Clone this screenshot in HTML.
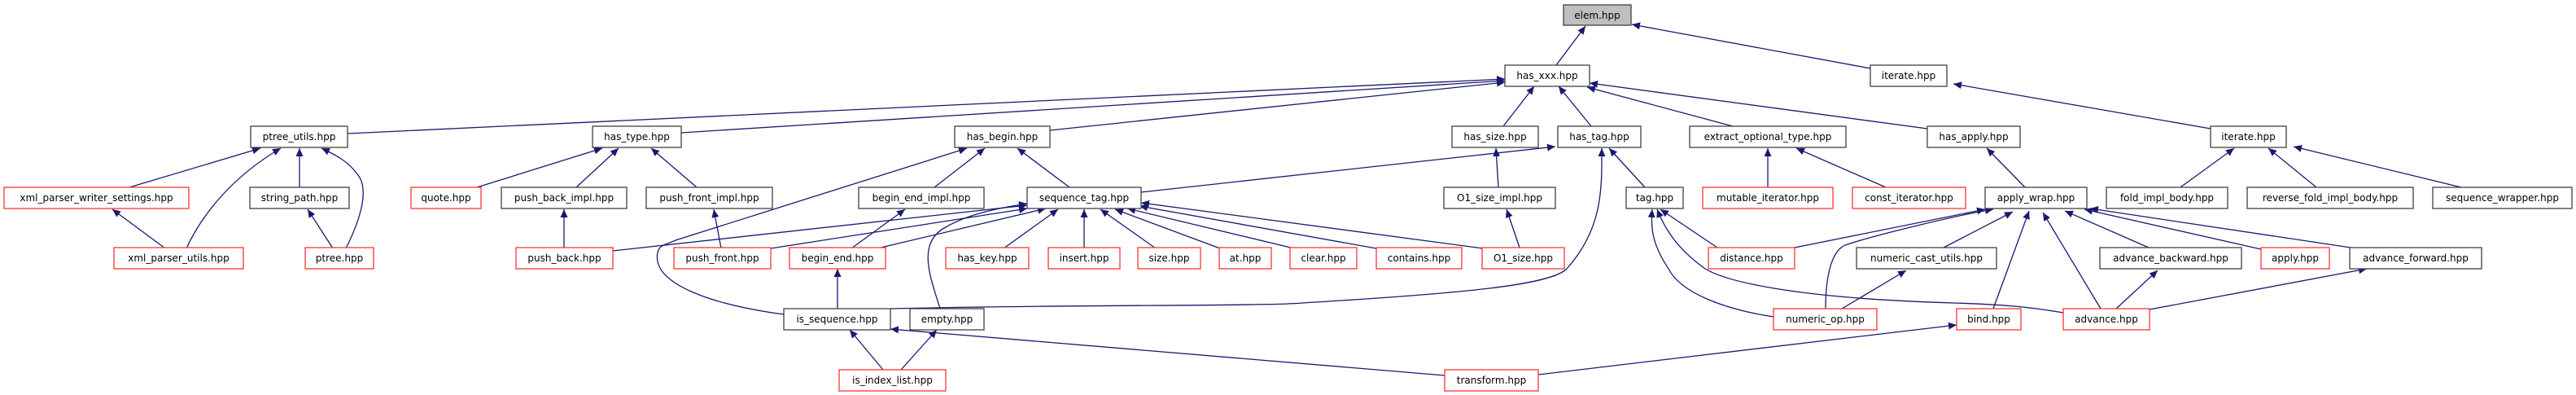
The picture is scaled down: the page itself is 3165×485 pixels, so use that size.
<!DOCTYPE html>
<html><head><meta charset="utf-8"><style>
html,body{margin:0;padding:0;background:#fff}
svg{display:block}
text{font-family:"DejaVu Sans","Liberation Sans",sans-serif;font-size:12px;fill:#000;text-anchor:middle}
.e{fill:none;stroke:#191970;stroke-width:1.3;marker-end:url(#a)}
.n{fill:#fff;stroke:#404040;stroke-width:1.3}
.r{fill:#fff;stroke:#ff3333;stroke-width:1.3}
</style></head><body>
<svg width="3165" height="485" viewBox="0 0 3165 485" xmlns="http://www.w3.org/2000/svg">
<defs><marker id="a" markerUnits="userSpaceOnUse" markerWidth="11" markerHeight="10" refX="10" refY="4.5" orient="auto"><path d="M0,0 L10,4.5 L0,9 z" fill="#191970"/></marker></defs>
<g>
<path class="e" d="M1912,80 L1948,32"/>
<path class="e" d="M2298,84 L2005,30"/>
<path class="e" d="M427,164 L1849,97"/>
<path class="e" d="M837,163 L1849,99"/>
<path class="e" d="M1290,160 L1849,101"/>
<path class="e" d="M1847,155 L1885,106"/>
<path class="e" d="M1955,155 L1915,106"/>
<path class="e" d="M2129,155 L1950,107"/>
<path class="e" d="M2368,158 L1953,102"/>
<path class="e" d="M159,230 L320,182"/>
<path class="e" d="M229,305 C245,270 280,220 345,182"/>
<path class="e" d="M368,230 L368,182"/>
<path class="e" d="M425,305 C440,275 455,235 440,215 C428,198 412,190 395,182"/>
<path class="e" d="M203,305 L138,257"/>
<path class="e" d="M409,305 L378,257"/>
<path class="e" d="M586,230 L740,182"/>
<path class="e" d="M708,230 L760,182"/>
<path class="e" d="M856,230 L800,182"/>
<path class="e" d="M693,305 L693,257"/>
<path class="e" d="M886,305 L877,257"/>
<path class="e" d="M963,386 C880,375 800,350 808,310 C810,300 820,300 830,295 L1188,182"/>
<path class="e" d="M1148,230 L1210,182"/>
<path class="e" d="M1314,230 L1250,182"/>
<path class="e" d="M1402,236 L1911,180"/>
<path class="e" d="M1046,305 L1112,257"/>
<path class="e" d="M753,308 L1262,252"/>
<path class="e" d="M947,305 L1262,256"/>
<path class="e" d="M1078,305 L1285,256"/>
<path class="e" d="M1155,379 C1145,345 1125,300 1160,280 C1190,262 1230,255 1262,250"/>
<path class="e" d="M1233,305 L1300,257"/>
<path class="e" d="M1332,305 L1332,257"/>
<path class="e" d="M1420,305 L1352,257"/>
<path class="e" d="M1499,305 L1370,257"/>
<path class="e" d="M1590,305 L1385,256"/>
<path class="e" d="M1691,305 L1400,253"/>
<path class="e" d="M1822,305 L1402,249"/>
<path class="e" d="M1841,230 L1838,182"/>
<path class="e" d="M1867,304 L1851,257"/>
<path class="e" d="M1094,379 C1300,374 1560,376 1600,372 C1800,360 1905,350 1925,330 C1970,280 1968,230 1968,182"/>
<path class="e" d="M2021,230 L1977,182"/>
<path class="e" d="M2172,230 L2172,182"/>
<path class="e" d="M2317,230 L2207,182"/>
<path class="e" d="M2488,230 L2441,182"/>
<path class="e" d="M2679,230 L2745,182"/>
<path class="e" d="M2846,230 L2787,182"/>
<path class="e" d="M3024,230 L2818,180"/>
<path class="e" d="M2716,158 L2400,103"/>
<path class="e" d="M2110,304 L2040,257"/>
<path class="e" d="M2179,389 C2120,380 2065,360 2050,330 C2030,300 2028,280 2030,257"/>
<path class="e" d="M2535,384 C2500,378 2470,374 2400,372 C2200,366 2120,345 2095,330 C2060,305 2045,280 2036,257"/>
<path class="e" d="M2205,304 L2439,257"/>
<path class="e" d="M2243,379 C2243,340 2250,305 2270,300 C2300,290 2400,265 2449,257"/>
<path class="e" d="M2388,304 L2473,260"/>
<path class="e" d="M2449,379 L2493,259"/>
<path class="e" d="M2581,379 L2510,261"/>
<path class="e" d="M2640,304 L2537,259"/>
<path class="e" d="M2778,306 L2561,257"/>
<path class="e" d="M2888,304 L2568,256"/>
<path class="e" d="M2263,379 L2342,332"/>
<path class="e" d="M2600,379 L2651,332"/>
<path class="e" d="M2641,380 L2908,330"/>
<path class="e" d="M1890,460 L2404,399"/>
<path class="e" d="M1775,461 L1094,404"/>
<path class="e" d="M1085,454 L1044,405"/>
<path class="e" d="M1107,454 L1151,405"/>
<path class="e" d="M1029,379 L1029,330"/>
</g>
<g>
<rect x="1921" y="6" width="83" height="25" fill="#bfbfbf" stroke="#404040" stroke-width="1.3"/><text x="1962.5" y="23">elem.hpp</text>
<rect class="n" x="1849" y="80" width="104" height="26"/><text x="1901" y="97">has_xxx.hpp</text>
<rect class="n" x="2298" y="80" width="94" height="26"/><text x="2345" y="97">iterate.hpp</text>

<rect class="n" x="308" y="155" width="119" height="26"/><text x="367.5" y="172">ptree_utils.hpp</text>
<rect class="n" x="728" y="155" width="109" height="26"/><text x="782.5" y="172">has_type.hpp</text>
<rect class="n" x="1173" y="155" width="117" height="26"/><text x="1231.5" y="172">has_begin.hpp</text>
<rect class="n" x="1784" y="155" width="106" height="26"/><text x="1837" y="172">has_size.hpp</text>
<rect class="n" x="1914" y="155" width="102" height="26"/><text x="1965" y="172">has_tag.hpp</text>
<rect class="n" x="2076" y="155" width="192" height="26"/><text x="2172" y="172">extract_optional_type.hpp</text>
<rect class="n" x="2368" y="155" width="114" height="26"/><text x="2425" y="172">has_apply.hpp</text>
<rect class="n" x="2716" y="155" width="93" height="26"/><text x="2762.5" y="172">iterate.hpp</text>

<rect class="r" x="5" y="230" width="227" height="26"/><text x="118.5" y="247">xml_parser_writer_settings.hpp</text>
<rect class="n" x="307" y="230" width="122" height="26"/><text x="368" y="247">string_path.hpp</text>
<rect class="r" x="505" y="230" width="86" height="26"/><text x="548" y="247">quote.hpp</text>
<rect class="n" x="616" y="230" width="154" height="26"/><text x="693" y="247">push_back_impl.hpp</text>
<rect class="n" x="794" y="230" width="155" height="26"/><text x="871.5" y="247">push_front_impl.hpp</text>
<rect class="n" x="1055" y="230" width="154" height="26"/><text x="1132" y="247">begin_end_impl.hpp</text>
<rect class="n" x="1262" y="230" width="140" height="26"/><text x="1332" y="247">sequence_tag.hpp</text>
<rect class="n" x="1774" y="230" width="137" height="26"/><text x="1842.5" y="247">O1_size_impl.hpp</text>
<rect class="n" x="1998" y="230" width="70" height="26"/><text x="2033" y="247">tag.hpp</text>
<rect class="r" x="2092" y="230" width="160" height="26"/><text x="2172" y="247">mutable_iterator.hpp</text>
<rect class="r" x="2276" y="230" width="139" height="26"/><text x="2345.5" y="247">const_iterator.hpp</text>
<rect class="n" x="2439" y="230" width="125" height="26"/><text x="2501.5" y="247">apply_wrap.hpp</text>
<rect class="n" x="2588" y="230" width="149" height="26"/><text x="2662.5" y="247">fold_impl_body.hpp</text>
<rect class="n" x="2761" y="230" width="204" height="26"/><text x="2863" y="247">reverse_fold_impl_body.hpp</text>
<rect class="n" x="2989" y="230" width="171" height="26"/><text x="3074.5" y="247">sequence_wrapper.hpp</text>

<rect class="r" x="140" y="304" width="159" height="26"/><text x="219.5" y="321">xml_parser_utils.hpp</text>
<rect class="r" x="375" y="304" width="84" height="26"/><text x="417" y="321">ptree.hpp</text>
<rect class="r" x="634" y="304" width="119" height="26"/><text x="693.5" y="321">push_back.hpp</text>
<rect class="r" x="828" y="304" width="119" height="26"/><text x="887.5" y="321">push_front.hpp</text>
<rect class="r" x="970" y="304" width="118" height="26"/><text x="1029" y="321">begin_end.hpp</text>
<rect class="r" x="1162" y="304" width="102" height="26"/><text x="1213" y="321">has_key.hpp</text>
<rect class="r" x="1288" y="304" width="88" height="26"/><text x="1332" y="321">insert.hpp</text>
<rect class="r" x="1398" y="304" width="77" height="26"/><text x="1436.5" y="321">size.hpp</text>
<rect class="r" x="1498" y="304" width="64" height="26"/><text x="1530" y="321">at.hpp</text>
<rect class="r" x="1585" y="304" width="82" height="26"/><text x="1626" y="321">clear.hpp</text>
<rect class="r" x="1691" y="304" width="105" height="26"/><text x="1743.5" y="321">contains.hpp</text>
<rect class="r" x="1821" y="304" width="101" height="26"/><text x="1871.5" y="321">O1_size.hpp</text>
<rect class="r" x="2099" y="304" width="106" height="26"/><text x="2152" y="321">distance.hpp</text>
<rect class="n" x="2281" y="304" width="172" height="26"/><text x="2367" y="321">numeric_cast_utils.hpp</text>
<rect class="n" x="2580" y="304" width="174" height="26"/><text x="2667" y="321">advance_backward.hpp</text>
<rect class="r" x="2778" y="304" width="84" height="26"/><text x="2820" y="321">apply.hpp</text>
<rect class="n" x="2887" y="304" width="162" height="26"/><text x="2968" y="321">advance_forward.hpp</text>

<rect class="n" x="963" y="379" width="131" height="26"/><text x="1028.5" y="396">is_sequence.hpp</text>
<rect class="n" x="1118" y="379" width="91" height="26"/><text x="1163.5" y="396">empty.hpp</text>
<rect class="r" x="2179" y="379" width="127" height="26"/><text x="2242.5" y="396">numeric_op.hpp</text>
<rect class="r" x="2404" y="379" width="79" height="26"/><text x="2443.5" y="396">bind.hpp</text>
<rect class="r" x="2535" y="379" width="106" height="26"/><text x="2588" y="396">advance.hpp</text>

<rect class="r" x="1031" y="454" width="131" height="26"/><text x="1096.5" y="471">is_index_list.hpp</text>
<rect class="r" x="1775" y="454" width="115" height="26"/><text x="1832.5" y="471">transform.hpp</text>
</g>
</svg>
</body></html>
